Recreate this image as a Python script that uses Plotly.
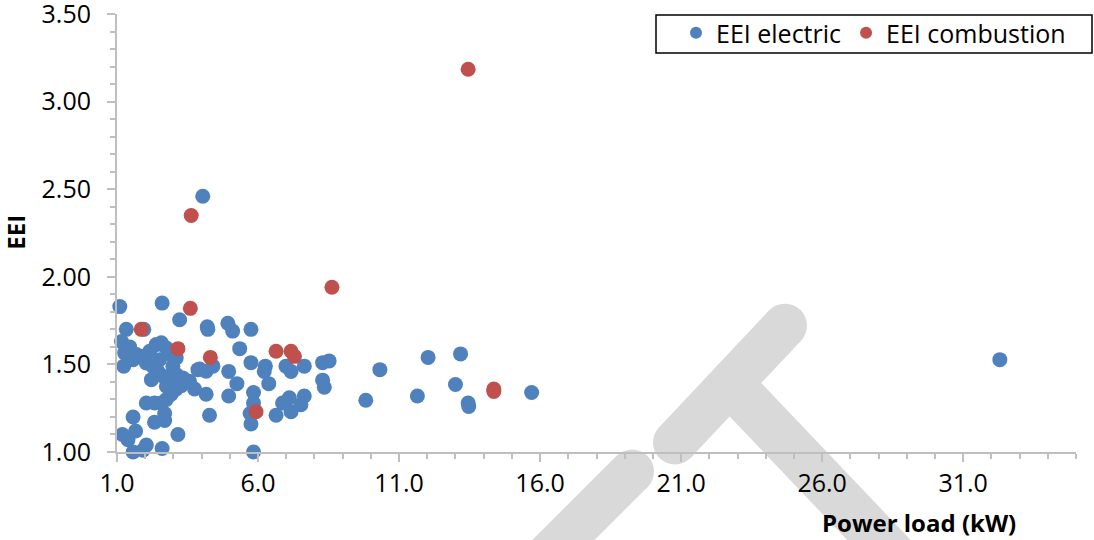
import plotly.graph_objects as go

# ---- data ----
elec_x = [1.10, 2.60, 3.22, 4.22, 4.20, 4.93, 5.10, 1.33, 1.95, 1.16, 1.45, 1.24, 4.40, 4.96, 5.25,
          4.96, 5.35, 3.87, 4.16, 4.28, 3.75, 2.04, 2.33, 2.57, 2.75, 2.92, 3.10, 2.69, 1.57, 2.33,
          2.69, 1.66, 1.19, 1.39, 2.04, 1.57, 1.92, 2.60, 3.16, 5.75, 5.75, 6.26, 6.22, 6.99, 7.17,
          7.64, 8.29, 8.52, 6.38, 8.29, 8.35, 5.84, 5.84, 5.72, 5.75, 5.84, 6.64, 6.87, 7.11, 7.17,
          7.52, 7.64, 9.82, 10.32, 11.65, 12.03, 13.18, 13.00, 13.45, 13.47, 15.70, 4.04, 32.3,
          1.69, 1.92, 2.16, 2.39, 2.57, 2.75, 2.92, 3.10, 1.57, 2.04, 2.27, 2.45, 2.63, 2.86, 3.10,
          3.33, 3.57, 3.93, 4.16, 2.75, 3.04, 3.28, 2.51, 1.27, 2.22, 2.98]
elec_y = [1.83, 1.85, 1.755, 1.70, 1.715, 1.735, 1.69, 1.70, 1.70, 1.63, 1.60, 1.49, 1.49, 1.46, 1.39,
          1.32, 1.59, 1.47, 1.33, 1.21, 1.36, 1.28, 1.28, 1.28, 1.30, 1.33, 1.36, 1.22, 1.20, 1.17,
          1.18, 1.12, 1.10, 1.07, 1.04, 1.00, 1.01, 1.02, 1.10, 1.70, 1.51, 1.49, 1.46, 1.49, 1.46,
          1.49, 1.51, 1.52, 1.39, 1.41, 1.37, 1.34, 1.28, 1.22, 1.16, 1.00, 1.21, 1.28, 1.31, 1.23,
          1.27, 1.32, 1.295, 1.47, 1.32, 1.54, 1.56, 1.385, 1.28, 1.26, 1.34, 2.46, 1.527,
          1.556, 1.546, 1.575, 1.613, 1.623, 1.594, 1.556, 1.537, 1.527, 1.508, 1.489, 1.461, 1.432,
          1.413, 1.442, 1.423, 1.404, 1.474, 1.461, 1.375, 1.356, 1.379, 1.527, 1.566, 1.413, 1.489]

comb_x = [1.86, 3.16, 3.60, 4.31, 8.62, 6.64, 7.17, 7.29, 5.93, 13.45, 3.63, 14.36, 14.36]
comb_y = [1.70, 1.59, 1.82, 1.54, 1.94, 1.575, 1.575, 1.546, 1.23, 3.185, 2.35, 1.36, 1.345]

y_ticks = [1.0, 1.5, 2.0, 2.5, 3.0, 3.5]
x_ticks = [1.0, 6.0, 11.0, 16.0, 21.0, 26.0, 31.0]

BLUE = "#4F81BD"
RED = "#C0504D"
GREY = "#BFBFBF"
FONT = "Open Sans"

fig = go.Figure()
fig.add_trace(go.Scatter(x=elec_x, y=elec_y, mode="markers", name="EEI electric",
                         marker=dict(color=BLUE, size=15, line=dict(width=0)), cliponaxis=False))
fig.add_trace(go.Scatter(x=comb_x, y=comb_y, mode="markers", name="EEI combustion",
                         marker=dict(color=RED, size=15, line=dict(width=0)), cliponaxis=False))

# ---- page layout (pixels) ----
W, H = 1094, 540
ML, MR, MT, MB = 117, 18, 14, 87.5
PW, PH = W - ML - MR, H - MT - MB


def px(xp):
    return (xp - ML) / PW


def py(yp):
    return (H - MB - yp) / PH


# light-grey watermark strokes behind the chart
WM = "#D9D9D9"
strokes = [((785, 326), (675, 443), 44), ((632, 472), (532, 572), 44), ((732, 386), (905, 568), 46)]
shapes = []
for (x0, y0), (x1, y1), wd in strokes:
    shapes.append(dict(type="line", xref="paper", yref="paper", x0=px(x0), y0=py(y0), x1=px(x1), y1=py(y1),
                       line=dict(color=WM, width=wd), layer="below"))
    r = wd / 2
    for (cx, cy) in [(x0, y0), (x1, y1)]:
        shapes.append(dict(type="circle", xref="paper", yref="paper", x0=px(cx - r), x1=px(cx + r),
                           y0=py(cy + r), y1=py(cy - r), fillcolor=WM, line=dict(width=0), layer="below"))

# legend frame
shapes.append(dict(type="rect", xref="paper", yref="paper", x0=px(656), x1=px(1092), y0=py(53), y1=py(15),
                   line=dict(color="black", width=1.5), fillcolor="white", layer="above"))

fig.update_layout(
    width=W, height=H,
    margin=dict(l=ML, r=MR, t=MT, b=MB, autoexpand=False),
    paper_bgcolor="white", plot_bgcolor="white",
    font=dict(family=FONT, size=25, color="black"),
    showlegend=True,
    legend=dict(orientation="h", x=px(676), xanchor="left", y=py(10), yanchor="top",
                borderwidth=0, bgcolor="rgba(0,0,0,0)",
                font=dict(family=FONT, size=25, color="black"), itemsizing="constant"),
    xaxis=dict(range=[1, 35], tickmode="array", tickvals=x_ticks,
               ticktext=[f"{v:.1f}" for v in x_ticks],
               showgrid=False, zeroline=False, showline=True, linecolor=GREY, linewidth=2,
               ticks="outside", ticklen=8, tickcolor=GREY, tickwidth=2,
               minor=dict(dtick=1, tick0=1, ticks="outside", ticklen=5, tickcolor=GREY, tickwidth=1.5),
               ticklabelstandoff=0, ticklabeloverflow="allow", tickfont=dict(family=FONT, size=25)),
    yaxis=dict(range=[1, 3.5], tickmode="array", tickvals=y_ticks,
               ticktext=[f"{v:.2f}" for v in y_ticks],
               showgrid=False, zeroline=False, showline=True, linecolor=GREY, linewidth=2,
               ticks="outside", ticklen=8, tickcolor=GREY, tickwidth=2,
               minor=dict(dtick=0.1, tick0=1, ticks="outside", ticklen=5, tickcolor=GREY, tickwidth=1.5),
               ticklabelstandoff=11, ticklabeloverflow="allow", tickfont=dict(family=FONT, size=25)),
    shapes=shapes,
    annotations=[
        dict(text="<b>Power load (kW)</b>", xref="paper", yref="paper", x=px(919), y=py(523),
             xanchor="center", yanchor="middle", showarrow=False, font=dict(family=FONT, size=24)),
        dict(text="<b>EEI</b>", xref="paper", yref="paper", x=px(16), y=py(233), textangle=-90,
             xanchor="center", yanchor="middle", showarrow=False, borderpad=0,
             font=dict(family=FONT, size=24)),
    ],
)

fig.write_html("out.html", config={"displayModeBar": False},
               post_script="document.body.style.margin='0';")
